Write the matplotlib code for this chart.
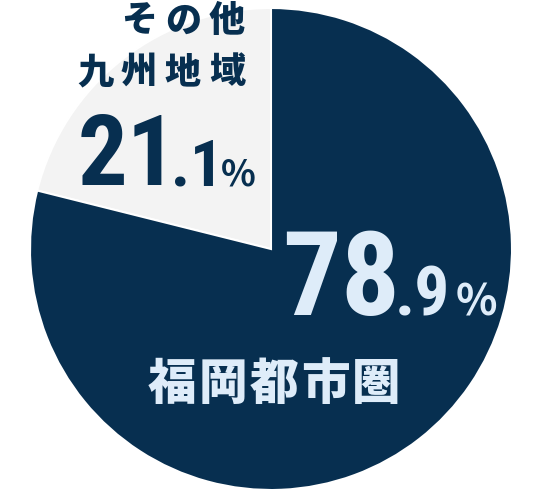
import matplotlib
matplotlib.use('Agg')
import matplotlib.pyplot as plt
from matplotlib import font_manager

# data
labels = ['その他九州地域', '福岡都市圏']
shares = [21.1, 78.9]
label_lines = [['その他', '九州地域'], ['福岡都市圏']]

navy = '#072f50'
gray = '#f3f3f3'
light = '#deecf9'

W, H = 544, 498
names = {f.name for f in font_manager.fontManager.ttflist}
num_font = next(n for n in ['Roboto Condensed', 'Barlow Condensed', 'Archivo Narrow',
                            'Noto Sans CJK JP'] if n in names)
jp_font = 'Noto Sans CJK JP'

fig = plt.figure(figsize=(W / 100, H / 100), dpi=100)
ax = fig.add_axes([0, 0, 1, 1])

def Y(y):
    # pixel row -> data y
    return H - y

ax.pie(shares, colors=[gray, navy], startangle=90, counterclock=True,
       center=(271, Y(249)), radius=241,
       wedgeprops=dict(edgecolor='white', linewidth=1.5))
ax.set_xlim(0, W)
ax.set_ylim(0, H)
ax.set_aspect('equal')
ax.axis('off')

def spaced(text, x_last, y, pitch, size, color):
    # one char at a time, x_last = centre of the last char
    n = len(text)
    for i, ch in enumerate(text):
        ax.text(x_last - (n - 1 - i) * pitch, Y(y), ch, fontsize=size,
                fontweight='black', family=jp_font, color=color,
                ha='center', va='center')

def number(value, xs, base, sizes, color):
    whole, frac = f'{value:.1f}'.split('.')
    fams = [num_font, num_font, jp_font]
    for x, s, size, fam in zip(xs, [whole, '.' + frac, '%'], sizes, fams):
        ax.text(x, Y(base), s, fontsize=size, fontweight='bold',
                family=fam, color=color, ha='left', va='baseline')

# その他九州地域
spaced(label_lines[0][0], 227, 21, 44, 26, navy)
spaced(label_lines[0][1], 227, 72, 44, 26, navy)
number(shares[0], (78, 171, 221), 185, (71, 47, 26), navy)

# 福岡都市圏
number(shares[1], (282, 395, 456), 315, (84, 50, 31), light)
spaced(label_lines[1][0], 376, 385, 51, 35, light)

fig.savefig('out.png', dpi=100)
